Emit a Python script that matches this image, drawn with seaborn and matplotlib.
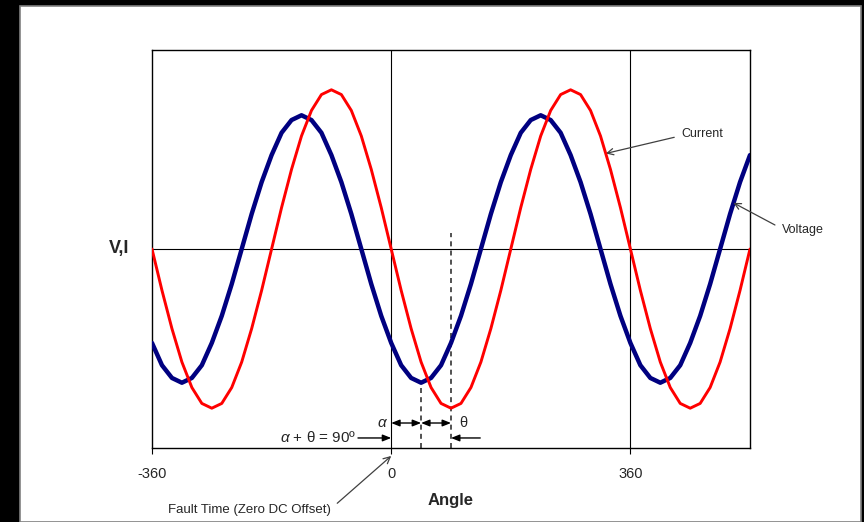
import matplotlib
matplotlib.use("Agg")
import matplotlib.pyplot as plt
from matplotlib.patches import Rectangle
import seaborn as sns

# angle in degrees
angle = [-360, -345, -330, -315, -300, -285, -270, -255, -240, -225, -210, -195,
         -180, -165, -150, -135, -120, -105, -90, -75, -60, -45, -30, -15,
         0, 15, 30, 45, 60, 75, 90, 105, 120, 135, 150, 165,
         180, 195, 210, 225, 240, 255, 270, 285, 300, 315, 330, 345,
         360, 375, 390, 405, 420, 435, 450, 465, 480, 495, 510, 525, 540]

current = [0.00, -0.26, -0.50, -0.71, -0.87, -0.97, -1.00, -0.97, -0.87, -0.71, -0.50, -0.26,
           0.00, 0.26, 0.50, 0.71, 0.87, 0.97, 1.00, 0.97, 0.87, 0.71, 0.50, 0.26,
           0.00, -0.26, -0.50, -0.71, -0.87, -0.97, -1.00, -0.97, -0.87, -0.71, -0.50, -0.26,
           0.00, 0.26, 0.50, 0.71, 0.87, 0.97, 1.00, 0.97, 0.87, 0.71, 0.50, 0.26,
           0.00, -0.26, -0.50, -0.71, -0.87, -0.97, -1.00, -0.97, -0.87, -0.71, -0.50, -0.26,
           0.00]

voltage = [-0.59, -0.73, -0.81, -0.84, -0.81, -0.73, -0.59, -0.42, -0.22, 0.00, 0.22, 0.42,
           0.59, 0.73, 0.81, 0.84, 0.81, 0.73, 0.59, 0.42, 0.22, 0.00, -0.22, -0.42,
           -0.59, -0.73, -0.81, -0.84, -0.81, -0.73, -0.59, -0.42, -0.22, 0.00, 0.22, 0.42,
           0.59, 0.73, 0.81, 0.84, 0.81, 0.73, 0.59, 0.42, 0.22, 0.00, -0.22, -0.42,
           -0.59, -0.73, -0.81, -0.84, -0.81, -0.73, -0.59, -0.42, -0.22, 0.00, 0.22, 0.42,
           0.59]

x_ticks = [-360, 0, 360]
x_tick_labels = ["-360", "0", "360"]

alpha_deg = 45   # voltage minimum after the fault
theta_deg = 45   # lag of current behind voltage

sns.set_style("white")
plt.rcParams["font.family"] = ["Liberation Sans", "DejaVu Sans"]
plt.rcParams["mathtext.fontset"] = "custom"
plt.rcParams["mathtext.it"] = "Liberation Sans:italic"
plt.rcParams["mathtext.rm"] = "Liberation Sans"

fig = plt.figure(figsize=(8.64, 5.22), dpi=100, facecolor="black")
# white sheet area with grey rim, black screenshot border around it
fig.add_artist(Rectangle((20 / 864, 0), 841 / 864, 516 / 522,
                         transform=fig.transFigure, facecolor="white",
                         edgecolor="#808080", linewidth=1.2, zorder=-1))

ax = fig.add_axes([152 / 864, 74 / 522, 598 / 864, 398 / 522])
ax.set_facecolor("white")

# reference lines
for xv in x_ticks[1:]:
    ax.axvline(xv, color="black", linewidth=0.8, zorder=1)
ax.axhline(0, color="black", linewidth=0.8, zorder=1)

sns.lineplot(x=angle, y=voltage, ax=ax, color="#000080", linewidth=3.2, zorder=3)
sns.lineplot(x=angle, y=current, ax=ax, color="#FF0000", linewidth=2.1, zorder=4)

ax.set_xlim(-360, 540)
ax.set_ylim(-1.25, 1.25)
ax.set_xticks(x_ticks)
ax.set_xticklabels(x_tick_labels)
ax.set_yticks([])
ax.tick_params(axis="x", direction="out", length=4.5, width=0.8, pad=9,
               labelsize=10.5, bottom=True, color="black")
for sp in ax.spines.values():
    sp.set_color("black")
    sp.set_linewidth(1.0)
ax.set_xlabel("Angle", fontsize=12, fontweight="bold", labelpad=9)
ax.text(-0.055, 0.5, "V,I", transform=ax.transAxes, ha="center", va="center",
        fontsize=13, fontweight="bold")

# dashed markers at alpha and alpha + theta
ax.vlines(alpha_deg, -1.25, -0.84, colors="#333333", linestyles=(0, (3, 2.5)),
          linewidth=1.2, zorder=2)
ax.vlines(alpha_deg + theta_deg, -1.25, 0.10, colors="#333333",
          linestyles=(0, (3, 2.5)), linewidth=1.2, zorder=2)

filled = dict(arrowstyle="<|-|>,head_length=0.5,head_width=0.2", color="black",
              lw=1.0, shrinkA=0, shrinkB=0)
ax.annotate("", xy=(0, -1.093), xytext=(alpha_deg, -1.093), arrowprops=filled)
ax.annotate("", xy=(alpha_deg, -1.093), xytext=(alpha_deg + theta_deg, -1.093),
            arrowprops=filled)
single = dict(arrowstyle="-|>,head_length=0.5,head_width=0.2", color="black",
              lw=1.0, shrinkA=0, shrinkB=0)
ax.annotate("", xy=(0, -1.187), xytext=(-50, -1.187), arrowprops=single)
ax.annotate("", xy=(alpha_deg + theta_deg, -1.187), xytext=(134, -1.187),
            arrowprops=single)
ax.text(-53, -1.187, r"$\alpha$ + θ = 90º", ha="right", va="center", fontsize=11)
ax.text(-13, -1.093, r"$\alpha$", ha="center", va="center", fontsize=11)
ax.text(108, -1.093, "θ", ha="center", va="center", fontsize=10.5)

pointer = dict(arrowstyle="->,head_length=0.5,head_width=0.25", color="#404040",
               lw=0.9, shrinkA=3, shrinkB=0)
ax.annotate("Current", xy=(323, 0.60), xytext=(437, 0.72), ha="left",
            va="center", fontsize=9, arrowprops=dict(pointer, relpos=(0, 0.4)))
ax.annotate("Voltage", xy=(515, 0.29), xytext=(588, 0.12), ha="left",
            va="center", fontsize=9, annotation_clip=False,
            arrowprops=dict(pointer, relpos=(0, 0.6)))
ax.annotate("Fault Time (Zero DC Offset)", xy=(0, -1.30), xytext=(-336, -1.64),
            ha="left", va="center", fontsize=9.5, annotation_clip=False,
            arrowprops=dict(pointer, relpos=(1, 0.6)))

fig.savefig("out.png", dpi=100, facecolor=fig.get_facecolor())
